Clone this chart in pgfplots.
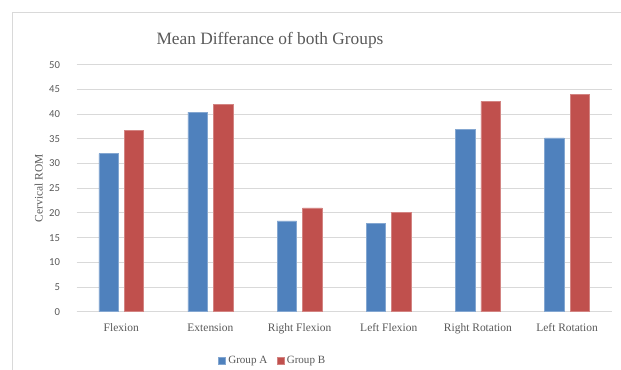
\documentclass[border=0pt]{standalone}
\usepackage{pgfplots}
\pgfplotsset{compat=1.18}
\usepackage{fontspec}
\setmainfont{Liberation Serif}
\newfontfamily\tickfont{Carlito}
\definecolor{gA}{HTML}{4F81BD}
\definecolor{gB}{HTML}{C0504D}
\definecolor{gridc}{HTML}{D9D9D9}
\definecolor{txt}{HTML}{595959}
\begin{document}
\begin{tikzpicture}
\useasboundingbox (0,0) rectangle (465.75pt,277.5pt);
\draw[gridc,line width=0.75pt] (9.4pt,0) -- (9.4pt,267.75pt) -- (465.75pt,267.75pt);
\node[txt,font=\fontsize{13}{15}\selectfont] at (202.5pt,247.5pt) {Mean Differance of both Groups};
\begin{axis}[
  at={(57.5pt,43.7pt)}, anchor=south west,
  scale only axis, width=401.25pt, height=185.25pt,
  ybar=4.5pt, bar width=14.6pt,
  xmin=-0.5, xmax=5.5, ymin=0, ymax=50,
  xtick=data,
  xticklabels={Flexion,Extension,Right Flexion,Left Flexion,Right Rotation,Left Rotation},
  ytick={0,5,...,50},
  axis x line*=bottom, axis y line*=left,
  x axis line style={gridc, line width=0.75pt, -},
  y axis line style={draw=none},
  ymajorgrids, grid style={gridc, line width=0.75pt},
  major tick length=0pt,
  yticklabel style={txt, font=\tickfont\fontsize{8}{9}\selectfont, xshift=-9pt},
  xticklabel style={txt, font=\fontsize{8.6}{10}\selectfont, yshift=-5.5pt},
  ylabel={Cervical ROM}, ylabel style={txt, font=\fontsize{8.6}{10}\selectfont, yshift=-2pt},
  legend style={at={(0.367,-0.198)}, anchor=center, draw=none, legend columns=2,
    font=\fontsize{8.3}{10}\selectfont, text=txt,
    /tikz/every even column/.append style={column sep=5pt}},
  legend image code/.code={\fill[#1] (0pt,-2.6pt) rectangle (5.2pt,2.6pt);},
  /pgf/number format/assume math mode=true,
  clip=false,
]
\addplot[fill=gA, draw=gA!70!white, line width=0.4pt] coordinates {(0,32.0) (1,40.4) (2,18.4) (3,17.9) (4,36.9) (5,35.2)};
\addplot[fill=gB, draw=gB!70!white, line width=0.4pt] coordinates {(0,36.7) (1,42.0) (2,21.0) (3,20.1) (4,42.6) (5,44.0)};
\legend{Group A, Group B}
\end{axis}
\end{tikzpicture}
\end{document}
